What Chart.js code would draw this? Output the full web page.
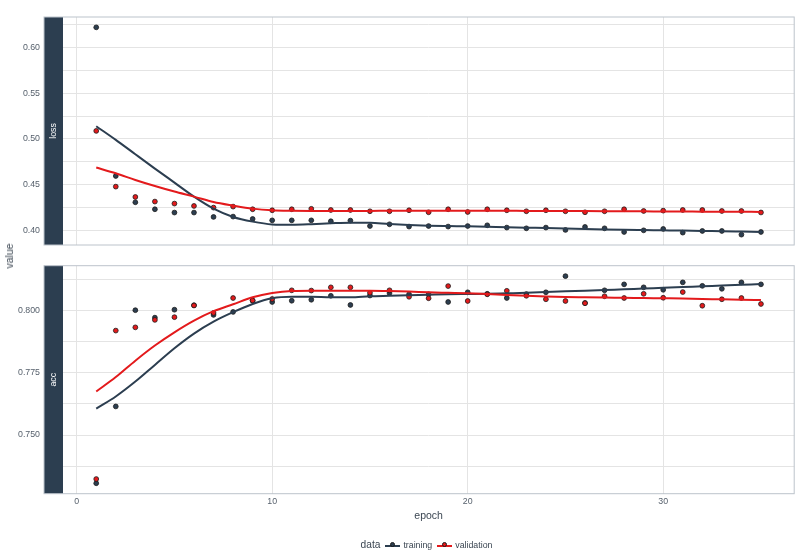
<!DOCTYPE html>
<html>
<head>
<meta charset="utf-8">
<script src="https://cdn.jsdelivr.net/npm/chart.js@4.4.1/dist/chart.umd.min.js"></script>
<style>
  html, body { margin: 0; padding: 0; background: #fff; }
  #wrap { position: relative; width: 799px; height: 553px; overflow: hidden; font-family: "Liberation Sans", Arial, sans-serif; }
  canvas { position: absolute; left: 0; }
  #ytitle { position: absolute; left: 9px; top: 256px; transform: translate(-50%, -50%) rotate(-90deg); font-size: 10.5px; color: #3b4652; white-space: nowrap; }
  #legend { position: absolute; top: 539px; left: 0; width: 858px; text-align: center; font-size: 8.8px; color: #3b4652; white-space: nowrap; }
  #legend .ttl { font-size: 10.2px; margin-right: 5px; }
  #legend .sym { display: inline-block; position: relative; width: 15px; height: 2px; vertical-align: middle; margin-right: 3px; }
  #legend .sym::after { content: ""; position: absolute; left: 4.5px; top: -2.2px; width: 5px; height: 5px; border-radius: 50%; background: inherit; border: 0.8px solid #1a1a1a; box-sizing: border-box; }
  #legend .item { margin-right: 5px; }
</style>
</head>
<body>
<div id="wrap">
  <canvas id="lossChart"></canvas>
  <canvas id="accChart"></canvas>
  <div id="ytitle">value</div>
  <div id="legend"><span class="ttl">data</span><span class="sym" style="background:#2c3e50"></span><span class="item">training</span><span class="sym" style="background:#e31a1c"></span><span class="item">validation</span></div>
</div>
<script>
const epochs = [1,2,3,4,5,6,7,8,9,10,11,12,13,14,15,16,17,18,19,20,21,22,23,24,25,26,27,28,29,30,31,32,33,34,35];

const lossTraining = [0.6218,0.4596,0.4309,0.4233,0.4197,0.4197,0.4149,0.4153,0.4127,0.4112,0.4112,0.4112,0.4102,0.4109,0.4050,0.4069,0.4044,0.4050,0.4044,0.4050,0.4058,0.4033,0.4025,0.4033,0.4007,0.4040,0.4025,0.3985,0.4003,0.4018,0.3978,0.3996,0.3996,0.3956,0.3985];
const lossValidation = [0.5088,0.4480,0.4367,0.4317,0.4295,0.4269,0.4251,0.4262,0.4233,0.4222,0.4233,0.4238,0.4225,0.4225,0.4211,0.4211,0.4222,0.4200,0.4233,0.4203,0.4233,0.4222,0.4211,0.4222,0.4211,0.4200,0.4211,0.4233,0.4214,0.4218,0.4225,0.4225,0.4214,0.4214,0.4198];
const accTraining = [0.7306,0.7615,0.8002,0.7972,0.8004,0.8022,0.7983,0.7995,0.8040,0.8035,0.8040,0.8044,0.8060,0.8023,0.8061,0.8071,0.8066,0.8066,0.8035,0.8074,0.8068,0.8051,0.8067,0.8074,0.8139,0.8031,0.8082,0.8106,0.8094,0.8084,0.8114,0.8100,0.8088,0.8114,0.8106];
const accValidation = [0.7323,0.7920,0.7933,0.7963,0.7974,0.8021,0.7991,0.8051,0.8041,0.8047,0.8082,0.8081,0.8094,0.8094,0.8072,0.8082,0.8056,0.8050,0.8099,0.8039,0.8066,0.8080,0.8060,0.8046,0.8039,0.8030,0.8058,0.8051,0.8068,0.8052,0.8075,0.8020,0.8046,0.8051,0.8027];

// smoothed (loess) curves
const lossTrainingSmooth = [0.5139,0.4990,0.4833,0.4677,0.4524,0.4371,0.4240,0.4149,0.4098,0.4068,0.4064,0.4070,0.4080,0.4087,0.4085,0.4072,0.4062,0.4054,0.4050,0.4047,0.4042,0.4036,0.4032,0.4029,0.4024,0.4018,0.4013,0.4009,0.4006,0.4003,0.4000,0.3996,0.3993,0.3989,0.3985];
const lossValidationSmooth = [0.4688,0.4626,0.4553,0.4487,0.4426,0.4371,0.4312,0.4273,0.4240,0.4222,0.4216,0.4214,0.4214,0.4215,0.4215,0.4216,0.4216,0.4216,0.4216,0.4216,0.4216,0.4216,0.4215,0.4215,0.4214,0.4213,0.4212,0.4211,0.4210,0.4209,0.4208,0.4207,0.4206,0.4205,0.4204];
const accTrainingSmooth = [0.7606,0.7655,0.7715,0.7782,0.7849,0.7908,0.7956,0.7994,0.8027,0.8050,0.8056,0.8056,0.8054,0.8054,0.8058,0.8060,0.8062,0.8064,0.8066,0.8067,0.8068,0.8070,0.8072,0.8075,0.8078,0.8080,0.8083,0.8086,0.8089,0.8092,0.8095,0.8098,0.8101,0.8104,0.8107];
const accValidationSmooth = [0.7675,0.7733,0.7799,0.7860,0.7913,0.7960,0.7998,0.8026,0.8054,0.8071,0.8079,0.8080,0.8080,0.8080,0.8080,0.8079,0.8077,0.8074,0.8072,0.8070,0.8067,0.8063,0.8060,0.8057,0.8055,0.8054,0.8053,0.8052,0.8051,0.8050,0.8049,0.8047,0.8046,0.8044,0.8043];

const xTicks = [0, 10, 20, 30];
const lossTicks = [0.40, 0.45, 0.50, 0.55, 0.60];
const lossMinor = [0.425, 0.475, 0.525, 0.575, 0.625];
const accTicks = [0.750, 0.775, 0.800];
const accMinor = [0.7375, 0.7625, 0.7875, 0.8125];

const BLUE = '#2c3e50';
const RED = '#e31a1c';
const GRID = '#e4e4e4';
const FONT = '"Liberation Sans", Arial, sans-serif';

const pts = (ys) => epochs.map((e, i) => ({ x: e, y: ys[i] }));

const panelDecor = {
  id: 'panelDecor',
  afterDraw(chart) {
    const { ctx, chartArea: a } = chart;
    const label = chart.options.plugins.panelDecor.label;
    ctx.save();
    ctx.fillStyle = BLUE;
    ctx.fillRect(44, a.top, a.left - 44, a.bottom - a.top);
    ctx.strokeStyle = '#bcc3cb';
    ctx.lineWidth = 1;
    ctx.strokeRect(44, a.top, a.right - 44, a.bottom - a.top);
    ctx.translate((44 + a.left) / 2, (a.top + a.bottom) / 2);
    ctx.rotate(-Math.PI / 2);
    ctx.fillStyle = '#ffffff';
    ctx.font = '8.8px ' + FONT;
    ctx.textAlign = 'center';
    ctx.textBaseline = 'middle';
    ctx.fillText(label, 0, 0);
    ctx.restore();
  }
};

function makePanel(id, top, height, o) {
  const canvas = document.getElementById(id);
  canvas.style.top = top + 'px';
  canvas.width = 799;
  canvas.height = height;
  const major = o.major;
  return new Chart(canvas, {
    type: 'scatter',
    data: {
      datasets: [
        { type: 'line', data: pts(o.valSmooth), borderColor: RED, borderWidth: 2, pointRadius: 0, cubicInterpolationMode: 'monotone', fill: false, order: 0 },
        { type: 'line', data: pts(o.trainSmooth), borderColor: BLUE, borderWidth: 2, pointRadius: 0, cubicInterpolationMode: 'monotone', fill: false, order: 1 },
        { data: pts(o.val), backgroundColor: RED, borderColor: '#1a1a1a', borderWidth: 0.8, pointRadius: 2.4, order: 2 },
        { data: pts(o.train), backgroundColor: BLUE, borderColor: '#1a1a1a', borderWidth: 0.8, pointRadius: 2.4, order: 3 }
      ]
    },
    options: {
      responsive: false,
      animation: false,
      layout: { padding: { top: o.padTop, right: 4, bottom: o.padBottom, left: 0 } },
      plugins: { legend: { display: false }, tooltip: { enabled: false }, panelDecor: { label: o.label } },
      scales: {
        x: {
          type: 'linear', min: -0.7, max: 36.7,
          afterBuildTicks: (s) => { s.ticks = xTicks.map(v => ({ value: v })); },
          afterFit: (s) => { s.height = o.xHeight; },
          grid: { color: GRID, drawTicks: false },
          border: { display: false },
          ticks: { display: o.showX, padding: 3, color: '#555f6b', font: { size: 8.8, family: FONT } },
          title: { display: o.showX, text: 'epoch', color: '#3b4652', padding: 0, font: { size: 10.5, family: FONT } }
        },
        y: {
          min: o.min, max: o.max,
          afterBuildTicks: (s) => { s.ticks = major.concat(o.minor).sort((a, b) => a - b).map(v => ({ value: v })); },
          // fixed axis width; drop the extra label padding so the panel keeps its own height
          afterFit: (s) => { s.width = 63; s.paddingTop = 0; s.paddingBottom = 0; },
          grid: { color: GRID, drawTicks: false },
          border: { display: false },
          ticks: {
            padding: 23, color: '#555f6b', font: { size: 8.8, family: FONT },
            callback: (v) => major.some(m => Math.abs(m - v) < 1e-9) ? v.toFixed(o.digits) : ''
          }
        }
      }
    },
    plugins: [panelDecor]
  });
}

makePanel('lossChart', 0, 250, {
  label: 'loss', min: 0.3843, max: 0.6331, major: lossTicks, minor: lossMinor, digits: 2,
  train: lossTraining, val: lossValidation, trainSmooth: lossTrainingSmooth, valSmooth: lossValidationSmooth,
  padTop: 17, padBottom: 5, xHeight: 0, showX: false
});

makePanel('accChart', 250, 303, {
  label: 'acc', min: 0.7264, max: 0.8181, major: accTicks, minor: accMinor, digits: 3,
  train: accTraining, val: accValidation, trainSmooth: accTrainingSmooth, valSmooth: accValidationSmooth,
  padTop: 15.7, padBottom: 30.3, xHeight: 29, showX: true
});
</script>
</body>
</html>
